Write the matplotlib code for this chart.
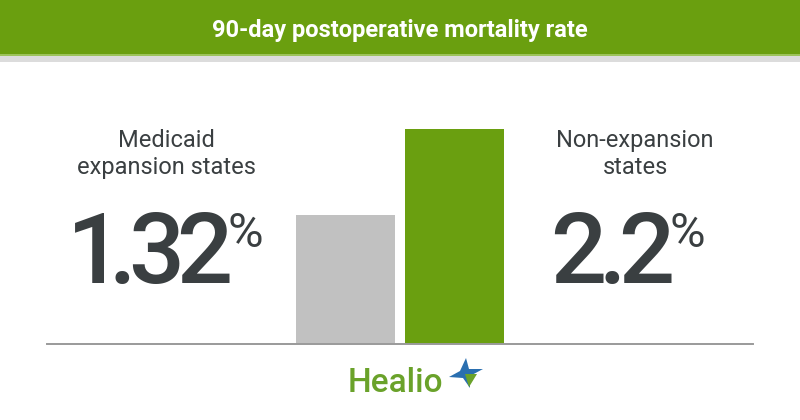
import matplotlib
matplotlib.use("Agg")
import matplotlib.pyplot as plt
from matplotlib.patches import Rectangle, Polygon

plt.rcParams["mathtext.fontset"] = "custom"
plt.rcParams["mathtext.rm"] = "Roboto:medium"
plt.rcParams["mathtext.it"] = "Roboto:medium"
plt.rcParams["mathtext.bf"] = "Roboto:bold"
plt.rcParams["mathtext.default"] = "rm"

# ---- data ----
title = "90-day postoperative mortality rate"
categories = ["Medicaid\nexpansion states", "Non-expansion\nstates"]
values = [1.32, 2.2]
value_labels = ["1.32", "2.2"]
bar_colors = ["#c1c1c1", "#6a9f10"]

W, H = 800, 420
fig = plt.figure(figsize=(W / 100, H / 100), dpi=100)
fig.patch.set_facecolor("white")

def fx(px):
    return px / W

def fy(py):
    return 1 - py / H

# header band
fig.patches.append(Rectangle((0, fy(54)), 1, 54 / H, transform=fig.transFigure,
                             facecolor="#6a9f0f", edgecolor="none", zorder=0))
fig.patches.append(Rectangle((0, fy(56)), 1, 2 / H, transform=fig.transFigure,
                             facecolor="#9cc35a", edgecolor="none", zorder=0))
fig.patches.append(Rectangle((0, fy(62)), 1, 6 / H, transform=fig.transFigure,
                             facecolor="#dcdcdc", edgecolor="none", zorder=0))
fig.text(0.5, fy(31), title, ha="center", va="center", color="white",
         fontsize=17, fontweight="bold", family="Roboto")

# bar axes
ax_left, ax_right = 47, 753
ax_bottom, ax_top = 344, 129
ax = fig.add_axes([fx(ax_left), fy(ax_bottom), (ax_right - ax_left) / W,
                   (ax_bottom - ax_top) / H])
x = list(range(len(values)))
unit = 109.0
c0 = (345.5 - ax_left) / unit
ax.bar(x, values, width=99 / unit, color=bar_colors, zorder=2)
ax.set_xlim(-c0, (ax_right - ax_left) / unit - c0)
ax.set_ylim(0, max(values))
for s in ["top", "left", "right"]:
    ax.spines[s].set_visible(False)
ax.spines["bottom"].set_color("#9a9a9a")
ax.spines["bottom"].set_linewidth(1.4)
ax.set_xticks([])
ax.set_yticks([])
ax.patch.set_alpha(0)

text_color = "#3a3f41"
renderer = fig.canvas.get_renderer()

# tight letter-spacing via mathtext negative spaces (in em)
kern = {"1": -0.07, ".": -0.2}
def tight(s, track=-0.09):
    parts = []
    for i, ch in enumerate(s):
        parts.append(ch)
        if i < len(s) - 1:
            parts.append(r"\hspace{%.3f}" % (track + kern.get(ch, 0)))
    return "$" + "".join(parts) + "$"

label_centers = [166, 635]
num_lefts = [66, 550]
for cx, nl, cat, vl in zip(label_centers, num_lefts, categories, value_labels):
    fig.text(fx(cx), fy(154), cat, ha="center", va="center", color=text_color,
             fontsize=17, family="Roboto", linespacing=1.2)
    t = fig.text(fx(nl), fy(283), tight(vl), ha="left", va="baseline",
                 color=text_color, fontsize=71)
    bb = t.get_window_extent(renderer=renderer)
    fig.text(fx(bb.x1 - 3), fy(247), "%", ha="left", va="baseline",
             color=text_color, fontsize=35, family="Roboto")

# Healio logo
fig.text(fx(348), fy(392), "Healio", ha="left", va="baseline",
         color="#6aa22a", fontsize=24, family="Roboto", fontweight="medium")
cx, cy = 464, 373
star = [(cx + 2, cy - 15), (cx + 5, cy - 4), (cx + 19, cy - 4), (cx + 6, cy + 3),
        (cx + 6, cy + 15), (cx - 1, cy + 5), (cx - 15, cy + 4), (cx - 4, cy - 2)]
fig.patches.append(Polygon([(fx(a), fy(b)) for a, b in star], closed=True,
                           transform=fig.transFigure, facecolor="#2a6fb0",
                           edgecolor="none"))
tri = [(cx + 1, cy + 1), (cx + 13, cy + 1), (cx + 5, cy + 14)]
fig.patches.append(Polygon([(fx(a), fy(b)) for a, b in tri], closed=True,
                           transform=fig.transFigure, facecolor="#6aa22a",
                           edgecolor="none"))

fig.savefig("out.png", dpi=100)
